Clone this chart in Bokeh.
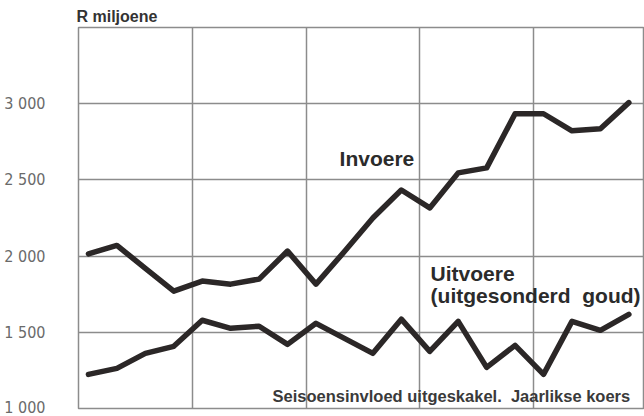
from bokeh.plotting import figure
from bokeh.models import Range1d, FixedTicker, Label, ColumnDataSource
from bokeh.embed import file_html
from bokeh.resources import INLINE

# ---- data ----
kwartaal = list(range(20))
invoere = [2015, 2070, 1920, 1770, 1836, 1816, 1849, 2033, 1816, 2030,
           2250, 2434, 2316, 2546, 2579, 2934, 2934, 2822, 2836, 3007]
uitvoere = [1224, 1263, 1362, 1408, 1579, 1526, 1540, 1421, 1559, 1460,
            1362, 1586, 1375, 1572, 1270, 1414, 1224, 1572, 1513, 1618]
y_ticks = [1000, 1500, 2000, 2500, 3000]
y_tick_labels = ["1 000", "1 500", "2 000", "2 500", "3 000"]
y_grid = [1500, 2000, 2500, 3000]
jaargrense = [3.65, 7.65, 11.65, 15.65]

src = ColumnDataSource(dict(x=kwartaal, inv=invoere, uit=uitvoere))

p = figure(width=644, height=416, output_backend="svg", toolbar_location=None,
           x_range=Range1d(-0.35, 19.55), y_range=Range1d(1000, 3500),
           min_border_left=78, min_border_right=0, min_border_top=27,
           min_border_bottom=8, background_fill_color="white",
           border_fill_color="white")
p.outline_line_color = "#8c8c8c"
p.outline_line_width = 1.5

p.title.text = "R miljoene"
p.title.text_font = "'Liberation Sans', Arial, sans-serif"
p.title.text_font_size = "16px"
p.title.text_font_style = "bold"
p.title.text_color = "#333333"
p.title.align = "left"
p.title.standoff = 6
p.title.offset = -2

p.xaxis.visible = False
p.xgrid.ticker = FixedTicker(ticks=jaargrense)
p.xgrid.grid_line_color = "#8c8c8c"
p.xgrid.grid_line_width = 1.5

yax = p.yaxis[0]
yax.ticker = FixedTicker(ticks=y_ticks)
yax.major_label_overrides = {t: l for t, l in zip(y_ticks, y_tick_labels)}
yax.axis_line_color = None
yax.major_tick_line_color = None
yax.minor_tick_line_color = None
yax.major_tick_out = 0
yax.major_tick_in = 0
yax.major_label_standoff = 33
yax.major_label_text_font = "'Liberation Sans Narrow', 'DejaVu Sans Condensed', sans-serif"
yax.major_label_text_font_size = "16px"
yax.major_label_text_color = "#6a6a6a"

p.ygrid.ticker = FixedTicker(ticks=y_grid)
p.ygrid.grid_line_color = "#8c8c8c"
p.ygrid.grid_line_width = 1.5

p.line("x", "inv", source=src, line_color="#2b2727", line_width=5.5,
       line_join="round", line_cap="round")
p.line("x", "uit", source=src, line_color="#2b2727", line_width=5.5,
       line_join="round", line_cap="round")

font = "'Liberation Sans', Arial, sans-serif"
def lab(x, y, t, size, color="#2b2b2b"):
    p.add_layout(Label(x=x, y=y, text=t, text_font=font, text_font_size=size,
                       text_font_style="bold", text_color=color,
                       text_baseline="alphabetic", text_align="left"))

lab(8.83, 2640, "Invoere", "21px")
lab(12.03, 1886, "Uitvoere", "21px")
lab(12.03, 1742, "(uitgesonderd\u00a0 goud)", "21px")
lab(6.47, 1085, "Seisoensinvloed uitgeskakel.\u00a0 Jaarlikse koers", "16.5px", "#3a3a3a")

open("out.html", "w").write(file_html(p, INLINE))
